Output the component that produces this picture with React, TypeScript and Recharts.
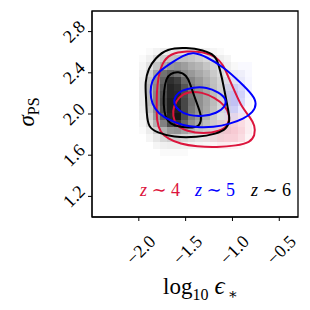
import { ComposedChart, XAxis, YAxis, Line, ReferenceArea } from "recharts";

const xTicks = [-2.0, -1.5, -1.0, -0.5];
const yTicks = [1.2, 1.6, 2.0, 2.4, 2.8];
const xDomain = [-2.5, -0.3];
const yDomain = [1.0, 3.0];

// 2d histogram bins, edges in data units
const binLeft = -2.003;
const binWidth = 0.076;
const binTop = 2.642;
const binHeight = 0.07;

// z~6 density (rows top -> bottom, cols left -> right), percent of peak
const densityZ6 = [
  [0, 2, 5, 8, 10, 12, 12, 10, 8, 6, 4, 2, 0, 0, 0, 0, 0],
  [2, 6, 14, 20, 24, 26, 26, 24, 20, 16, 12, 7, 4, 0, 0, 0, 0],
  [4, 12, 24, 34, 42, 44, 40, 34, 30, 24, 18, 12, 7, 3, 0, 0, 0],
  [6, 20, 38, 58, 65, 58, 48, 42, 36, 30, 22, 15, 9, 4, 2, 0, 0],
  [8, 25, 45, 65, 86, 80, 62, 50, 42, 34, 26, 18, 11, 5, 2, 0, 0],
  [8, 28, 48, 70, 90, 86, 70, 54, 44, 36, 27, 19, 11, 5, 2, 0, 0],
  [8, 28, 50, 74, 90, 88, 74, 57, 46, 37, 28, 19, 11, 5, 2, 0, 0],
  [8, 28, 50, 76, 92, 90, 76, 59, 46, 37, 28, 18, 11, 5, 2, 0, 0],
  [7, 25, 47, 74, 92, 92, 76, 57, 45, 36, 26, 16, 9, 4, 0, 0, 0],
  [6, 20, 42, 67, 90, 96, 73, 53, 42, 32, 22, 13, 7, 3, 0, 0, 0],
  [4, 14, 32, 52, 74, 84, 64, 46, 36, 27, 18, 11, 6, 2, 0, 0, 0],
  [2, 8, 20, 32, 42, 44, 38, 30, 24, 18, 12, 7, 3, 0, 0, 0, 0],
  [0, 4, 10, 16, 20, 20, 17, 14, 11, 8, 6, 3, 0, 0, 0, 0, 0],
  [0, 0, 4, 6, 7, 7, 6, 5, 4, 3, 0, 0, 0, 0, 0, 0, 0],
  [0, 0, 0, 2, 2, 2, 2, 0, 0, 0, 0, 0, 0, 0, 0, 0, 0],
];

// z~5 density, only the part that shows outside the z~6 one
const densityZ5 = [
  [0, 0, 0, 0, 0, 0, 0, 0, 0, 0, 0, 0, 0, 0, 0, 0, 0],
  [0, 0, 0, 0, 0, 0, 0, 0, 0, 0, 0, 0, 0, 0, 0, 0, 0],
  [0, 0, 0, 0, 0, 0, 0, 0, 0, 0, 0, 0, 0, 0, 5, 5, 0],
  [0, 0, 0, 0, 0, 0, 0, 0, 0, 0, 0, 0, 0, 8, 10, 6, 0],
  [0, 0, 0, 0, 0, 0, 0, 0, 0, 0, 0, 0, 10, 15, 15, 8, 0],
  [0, 0, 0, 0, 0, 0, 0, 0, 0, 0, 0, 0, 20, 35, 30, 10, 0],
  [0, 0, 0, 0, 0, 0, 0, 0, 0, 0, 0, 0, 30, 45, 35, 10, 0],
  [0, 0, 0, 0, 0, 0, 0, 0, 0, 0, 0, 0, 30, 45, 30, 8, 0],
  [0, 0, 0, 0, 0, 0, 0, 0, 0, 0, 0, 0, 25, 35, 20, 5, 0],
  [0, 0, 0, 0, 0, 0, 0, 0, 0, 0, 0, 0, 10, 15, 8, 0, 0],
  [0, 0, 0, 0, 0, 0, 0, 0, 0, 0, 0, 0, 0, 0, 0, 0, 0],
  [0, 0, 0, 0, 0, 0, 0, 0, 0, 0, 0, 0, 0, 0, 0, 0, 0],
  [0, 0, 0, 0, 0, 0, 0, 0, 0, 0, 0, 0, 0, 0, 0, 0, 0],
  [0, 0, 0, 0, 0, 0, 0, 0, 0, 0, 0, 0, 0, 0, 0, 0, 0],
  [0, 0, 0, 0, 0, 0, 0, 0, 0, 0, 0, 0, 0, 0, 0, 0, 0],
];

// z~4 density, visible part only
const densityZ4 = [
  [0, 0, 0, 0, 0, 0, 0, 0, 0, 0, 0, 0, 0, 0, 0, 0, 0],
  [0, 0, 0, 0, 0, 0, 0, 0, 0, 0, 0, 0, 0, 0, 0, 0, 0],
  [0, 0, 0, 0, 0, 0, 0, 0, 0, 0, 0, 0, 0, 0, 0, 0, 0],
  [0, 0, 0, 0, 0, 0, 0, 0, 0, 0, 0, 0, 0, 0, 0, 0, 0],
  [0, 0, 0, 0, 0, 0, 0, 0, 0, 0, 0, 0, 0, 0, 0, 0, 0],
  [0, 0, 0, 0, 0, 0, 0, 0, 0, 0, 0, 0, 0, 0, 0, 0, 0],
  [0, 0, 0, 0, 0, 0, 0, 0, 0, 0, 0, 0, 0, 0, 0, 0, 0],
  [0, 0, 0, 0, 0, 0, 0, 0, 0, 0, 0, 0, 0, 0, 0, 0, 0],
  [0, 0, 0, 0, 0, 0, 0, 0, 0, 0, 0, 0, 0, 0, 0, 0, 0],
  [0, 0, 0, 0, 0, 0, 0, 0, 0, 0, 0, 0, 10, 15, 15, 8, 0],
  [0, 0, 0, 0, 0, 0, 0, 0, 0, 0, 10, 20, 30, 35, 30, 15, 0],
  [0, 0, 0, 0, 0, 0, 0, 0, 0, 10, 20, 35, 45, 45, 35, 15, 0],
  [0, 0, 0, 0, 0, 0, 0, 0, 0, 10, 20, 35, 40, 40, 30, 10, 0],
  [0, 0, 0, 0, 0, 0, 0, 0, 0, 0, 10, 15, 15, 10, 5, 0, 0],
  [0, 0, 0, 0, 0, 0, 0, 0, 0, 0, 0, 0, 0, 0, 0, 0, 0],
];

// contours, [log10 eps, sigma_PS]
const z6Outer = [
  [-1.702, 2.636], [-1.488, 2.646], [-1.311, 2.62], [-1.186, 2.571], [-1.151, 2.49],
  [-1.114, 2.359], [-1.079, 2.197], [-1.044, 2.034], [-1.026, 1.937], [-1.061, 1.856],
  [-1.168, 1.807], [-1.381, 1.774], [-1.631, 1.774], [-1.809, 1.822], [-1.898, 1.871],
  [-1.916, 2.002], [-1.923, 2.164], [-1.934, 2.31], [-1.898, 2.441], [-1.827, 2.539],
];
const z6Inner = [
  [-1.667, 2.392], [-1.578, 2.415], [-1.488, 2.376], [-1.453, 2.295], [-1.418, 2.197],
  [-1.364, 2.066], [-1.328, 1.969], [-1.346, 1.888], [-1.418, 1.865], [-1.56, 1.871],
  [-1.667, 1.904], [-1.72, 1.969], [-1.738, 2.1], [-1.731, 2.229], [-1.709, 2.343],
];
const z4Outer = [
  [-1.667, 2.587], [-1.488, 2.613], [-1.311, 2.603], [-1.168, 2.554], [-1.097, 2.473],
  [-1.044, 2.359], [-0.972, 2.213], [-0.901, 2.066], [-0.812, 1.969], [-0.759, 1.888],
  [-0.759, 1.79], [-0.812, 1.725], [-0.954, 1.693], [-1.168, 1.676], [-1.381, 1.683],
  [-1.56, 1.709], [-1.685, 1.758], [-1.774, 1.822], [-1.809, 1.937], [-1.809, 2.066],
  [-1.809, 2.213], [-1.792, 2.359], [-1.755, 2.49],
];
const z4Inner = [
  [-1.631, 2.066], [-1.578, 2.164], [-1.471, 2.22], [-1.328, 2.213], [-1.186, 2.158],
  [-1.079, 2.083], [-1.026, 1.985], [-1.044, 1.888], [-1.132, 1.832], [-1.311, 1.807],
  [-1.488, 1.832], [-1.603, 1.888], [-1.638, 1.985],
];
const z5Outer = [
  [-1.418, 2.603], [-1.275, 2.554], [-1.097, 2.457], [-0.919, 2.31], [-0.777, 2.18],
  [-0.741, 2.1], [-0.777, 2.018], [-0.883, 1.953], [-1.026, 1.904], [-1.204, 1.871],
  [-1.381, 1.871], [-1.525, 1.888], [-1.667, 1.937], [-1.792, 2.002], [-1.862, 2.1],
  [-1.88, 2.213], [-1.862, 2.327], [-1.792, 2.408], [-1.667, 2.49], [-1.525, 2.571],
];
const z5Inner = [
  [-1.613, 2.18], [-1.542, 2.229], [-1.418, 2.261], [-1.275, 2.261], [-1.151, 2.213],
  [-1.061, 2.148], [-1.079, 2.066], [-1.168, 2.008], [-1.311, 1.976], [-1.471, 1.985],
  [-1.578, 2.034], [-1.631, 2.1],
];

const RED = "#dc143c";
const BLUE = "#0000ff";
const BLACK = "#000000";
const SERIF = "'Liberation Serif', 'DejaVu Serif', serif";

const toPoints = (pairs: number[][]) => pairs.map(([x, y]) => ({ x, y }));

const toCells = (grid: number[][]) => {
  const out: { x1: number; x2: number; y1: number; y2: number; v: number }[] = [];
  grid.forEach((row, r) =>
    row.forEach((v, c) => {
      if (v <= 0) return;
      out.push({
        x1: binLeft + c * binWidth,
        x2: binLeft + (c + 1) * binWidth,
        y1: binTop - (r + 1) * binHeight,
        y2: binTop - r * binHeight,
        v,
      });
    })
  );
  return out;
};

const fmt = (v: number) => (v < 0 ? "\u2212" + Math.abs(v).toFixed(1) : v.toFixed(1));

const YTick = (props: any) => {
  const { x, y, payload } = props;
  const cx = x - 12;
  return (
    <text
      x={cx}
      y={y}
      textAnchor="middle"
      dominantBaseline="central"
      style={{ fontFamily: SERIF }}
      fontSize={18}
      fill="#000"
      transform={`rotate(-45 ${cx} ${y})`}
    >
      {fmt(payload.value)}
    </text>
  );
};

const XTick = (props: any) => {
  const { x, y, payload } = props;
  const cx = x + 2;
  const cy = y + 27;
  return (
    <text
      x={cx}
      y={cy}
      textAnchor="middle"
      dominantBaseline="central"
      style={{ fontFamily: SERIF }}
      fontSize={18}
      fill="#000"
      transform={`rotate(-45 ${cx} ${cy})`}
    >
      {fmt(payload.value)}
    </text>
  );
};

const cellShape = (color: string, opacity: number) => (p: any) => (
  <rect
    x={p.x}
    y={p.y}
    width={p.width}
    height={p.height}
    fill={color}
    fillOpacity={opacity}
    shapeRendering="crispEdges"
  />
);

export default function App() {
  const contours = [
    { key: "z4o", data: z4Outer, color: RED },
    { key: "z4i", data: z4Inner, color: RED },
    { key: "z6o", data: z6Outer, color: BLACK },
    { key: "z6i", data: z6Inner, color: BLACK },
    { key: "z5o", data: z5Outer, color: BLUE },
    { key: "z5i", data: z5Inner, color: BLUE },
  ];

  return (
    <div style={{ position: "absolute", left: 0, top: 0, width: 310, height: 310, background: "#fff" }}>
      <ComposedChart width={310} height={310} margin={{ top: 11, right: 12, left: 32, bottom: 53 }}>
        <XAxis
          type="number"
          dataKey="x"
          domain={xDomain}
          ticks={xTicks}
          allowDataOverflow
          axisLine={{ stroke: "#000" }}
          tickLine={{ stroke: "#000" }}
          tickSize={4}
          height={40}
          tick={<XTick />}
          interval={0}
        />
        <YAxis
          type="number"
          dataKey="y"
          domain={yDomain}
          ticks={yTicks}
          allowDataOverflow
          axisLine={{ stroke: "#000" }}
          tickLine={{ stroke: "#000" }}
          tickSize={4}
          width={60}
          tick={<YTick />}
          interval={0}
        />
        {toCells(densityZ4).map((c, i) => (
          <ReferenceArea key={`r${i}`} x1={c.x1} x2={c.x2} y1={c.y1} y2={c.y2} shape={cellShape(RED, (c.v / 100) * 0.5)} />
        ))}
        {toCells(densityZ5).map((c, i) => (
          <ReferenceArea key={`b${i}`} x1={c.x1} x2={c.x2} y1={c.y1} y2={c.y2} shape={cellShape(BLUE, (c.v / 100) * 0.45)} />
        ))}
        {toCells(densityZ6).map((c, i) => (
          <ReferenceArea key={`g${i}`} x1={c.x1} x2={c.x2} y1={c.y1} y2={c.y2} shape={cellShape("#000", (c.v / 100) * 0.95)} />
        ))}
        {contours.map((c) => (
          <Line
            key={c.key}
            data={toPoints(c.data)}
            dataKey="y"
            type="basisClosed"
            stroke={c.color}
            strokeWidth={2}
            dot={false}
            activeDot={false}
            isAnimationActive={false}
          />
        ))}
        <ReferenceArea
          x1={xDomain[0]}
          x2={xDomain[1]}
          y1={yDomain[0]}
          y2={yDomain[1]}
          fill="none"
          fillOpacity={0}
          stroke="#000"
          strokeWidth={1.3}
          ifOverflow="visible"
        />
      </ComposedChart>

      <div style={{ position: "absolute", left: 140, top: 180, fontFamily: SERIF, fontSize: 18, whiteSpace: "nowrap", lineHeight: "20px" }}>
        <span style={{ color: RED }}><i>z</i> ∼ 4</span>
      </div>
      <div style={{ position: "absolute", left: 195, top: 180, fontFamily: SERIF, fontSize: 18, whiteSpace: "nowrap", lineHeight: "20px" }}>
        <span style={{ color: BLUE }}><i>z</i> ∼ 5</span>
      </div>
      <div style={{ position: "absolute", left: 251, top: 180, fontFamily: SERIF, fontSize: 18, whiteSpace: "nowrap", lineHeight: "20px" }}>
        <span style={{ color: BLACK }}><i>z</i> ∼ 6</span>
      </div>

      <div
        style={{
          position: "absolute",
          left: 27,
          top: 112,
          transform: "translate(-50%, -50%) rotate(-90deg)",
          fontFamily: SERIF,
          fontSize: 23,
          whiteSpace: "nowrap",
        }}
      >
        <i>σ</i>
        <span style={{ fontSize: 16, position: "relative", top: 5 }}>PS</span>
      </div>
      <div
        style={{
          position: "absolute",
          left: 163,
          top: 272,
          fontFamily: SERIF,
          fontSize: 23,
          whiteSpace: "nowrap",
        }}
      >
        log<span style={{ fontSize: 16, position: "relative", top: 6 }}>10</span>
        <i style={{ marginLeft: 6, fontSize: 25 }}>ϵ</i>
        <span style={{ fontSize: 15, position: "relative", top: 5, marginLeft: 3 }}>∗</span>
      </div>
    </div>
  );
}
